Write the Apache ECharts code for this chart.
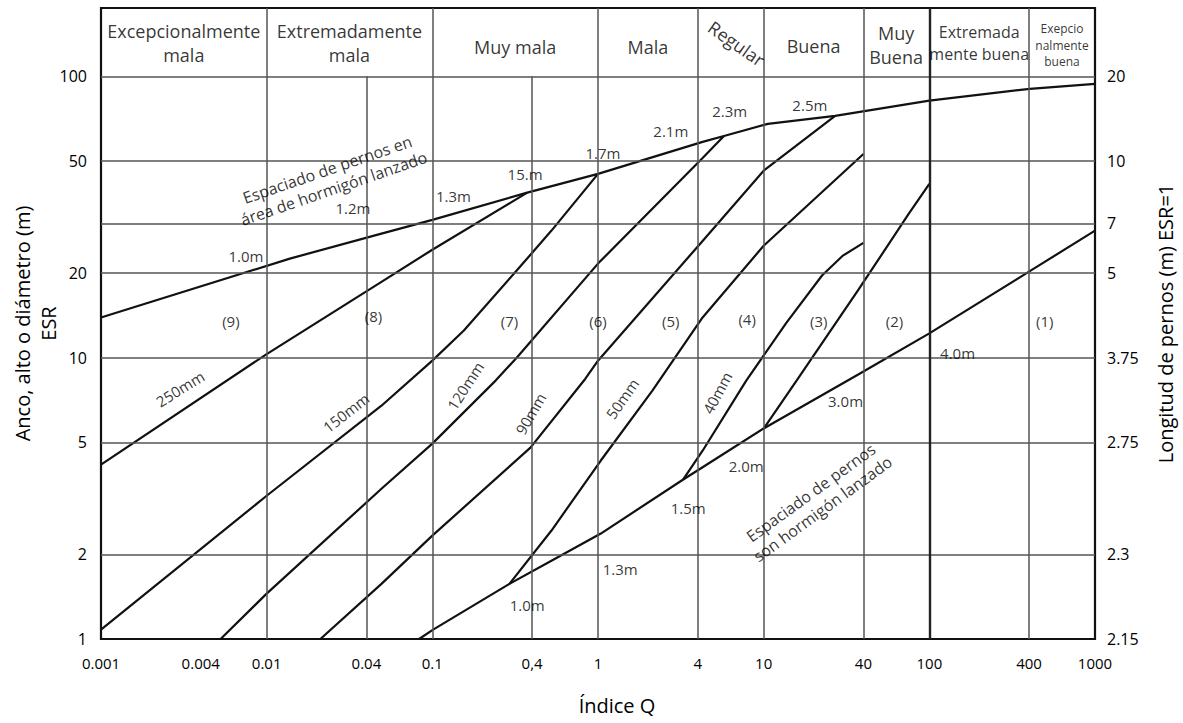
<!DOCTYPE html>
<html>
<head>
<meta charset="utf-8">
<script src="https://cdn.jsdelivr.net/npm/echarts@6/dist/echarts.min.js"></script>
<style>
  html, body { margin: 0; padding: 0; background: #fff; }
  #chart { width: 1183px; height: 723px; }
</style>
</head>
<body>
<div id="chart"></div>
<script>
// --- ticks ---
var qTicks = [0.001, 0.004, 0.01, 0.04, 0.1, 0.4, 1, 4, 10, 40, 100, 400, 1000];
var qTickLabels = ['0.001', '0.004', '0.01', '0.04', '0.1', '0,4', '1', '4', '10', '40', '100', '400', '1000'];
var spanTicks = [1, 2, 5, 10, 20, 50, 100];
var gridRows = [2, 5, 10, 20, 30, 50, 100];
var boltTicks = [1, 2, 5, 10, 20, 30, 50, 100];
var boltLabels = ['2.15', '2.3', '2.75', '3.75', '5', '7', '10', '20'];

// --- rock mass classes (header) ---
var classCols = [0.01, 0.1, 1, 4, 10, 40, 100, 400];   // run up through the header
var subCols = [0.04, 0.4];                            // plot area only
var classNames = ['Excepcionalmente\nmala', 'Extremadamente\nmala', 'Muy mala', 'Mala', 'Regular', 'Buena', 'Muy\nBuena', 'Extremada\nmente buena', 'Exepcio\nnalmente\nbuena'];
var classQ = [0.00316, 0.0316, 0.316, 2, 6.86, 20, 63, 200, 632];
var classH = [131, 131, 127, 127, 131, 128, 129, 131, 129];

// --- curves: [Q, span/ESR] ---
var spacingShotcrete = [[0.001, 13.9], [0.0138, 22.5], [0.0493, 27.6], [0.1, 30.9], [0.374, 38.6], [1, 45.0], [4.28, 58.5], [5.76, 61.4], [10.6, 67.8], [27.0, 72.4], [100, 82], [404, 90.3], [1000, 94.1]];
var line250 = [[0.001, 4.17], [0.01, 10.3], [0.0493, 18.6], [0.1, 24.2], [0.374, 38.6]];
var line150 = [[0.001, 1.08], [0.01, 3.23], [0.0493, 6.75], [0.1, 9.76], [0.155, 12.5], [0.323, 20.4], [0.524, 28.3], [1, 45.0]];
var line120 = [[0.00527, 1], [0.01, 1.45], [0.0493, 3.42], [0.1, 4.95], [0.241, 8.29], [0.323, 10.0], [1, 21.6], [4.28, 51.3], [5.76, 61.4]];
var line90 = [[0.0211, 1], [0.0493, 1.57], [0.1, 2.33], [0.391, 4.79], [0.839, 8.42], [1, 9.76], [4.28, 26.0], [10, 46.2], [27.0, 72.4]];
var line50 = [[0.292, 1.57], [0.524, 2.43], [1.04, 4.31], [2.13, 7.64], [4.28, 13.9], [10, 25.0], [40, 53.0]];
var line40 = [[3.27, 3.69], [4.28, 4.67], [7.85, 8.29], [13.7, 13.3], [22.5, 19.6], [29.9, 23.0], [40, 25.6]];
var lineBolts = [[10, 5.60], [15.8, 8.29], [37.0, 17.3], [75.2, 32.5], [100, 41.5]];
var spacingNoShotcrete = [[0.0832, 1], [0.1, 1.075], [0.292, 1.57], [0.517, 1.89], [1.04, 2.37], [3.27, 3.69], [4.28, 4.08], [10, 5.60], [37.0, 8.70], [100, 12.2], [404, 20.3], [1000, 28.3]];

// --- labels on the chart: [text, Q, span, rotate] ---
var upperSpacingLabels = [['1.0m', 0.0075, 23.0], ['1.2m', 0.0332, 34.1], ['1.3m', 0.134, 37.6], ['15.m', 0.363, 45.0], ['1.7m', 1.07, 53.5], ['2.1m', 2.75, 64.0], ['2.3m', 6.24, 75.4], ['2.5m', 19.0, 79.2]];
var lowerSpacingLabels = [['1.0m', 0.374, 1.32], ['1.3m', 1.36, 1.78], ['1.5m', 3.50, 2.93], ['2.0m', 7.85, 4.13], ['3.0m', 31.2, 7.04], ['4.0m', 148, 10.4]];
var zoneLabels = [['(9)', 0.00608, 13.5], ['(8)', 0.0441, 14.1], ['(7)', 0.292, 13.5], ['(6)', 1.0, 13.5], ['(5)', 2.75, 13.5], ['(4)', 7.95, 13.7], ['(3)', 21.5, 13.5], ['(2)', 61.7, 13.5], ['(1)', 498, 13.5]];
var thicknessLabels = [['250mm', 0.0030, 7.76, 32], ['150mm', 0.0301, 6.38, 38], ['120mm', 0.158, 7.95, 57], ['90mm', 0.391, 6.33, 60], ['50mm', 1.40, 7.15, 55], ['40mm', 5.24, 7.51, 62]];
var noteLabels = [['Espaciado de pernos en\nárea de hormigón lanzado', 0.0243, 43.2, 19], ['Espaciado de pernos\nson hormigón lanzado', 20.9, 3.10, 36]];

var FONT = "'Open Sans', 'Noto Sans', sans-serif";
var INK = '#000';
var GRIDC = '#555';

function lookup(ticks, labels) {
  return function(v) {
    for (var i = 0; i < ticks.length; i++) {
      if (Math.abs(v - ticks[i]) / ticks[i] < 1e-6) return labels[i];
    }
    return '';
  };
}

function curve(name, data) {
  return {
    name: name, type: 'line', data: data, z: 3,
    symbol: 'none', silent: true,
    lineStyle: { color: '#111', width: 2.2 }
  };
}

function texts(items, fontSize, lineHeight) {
  return {
    type: 'scatter', z: 5, silent: true, symbolSize: 1,
    itemStyle: { color: 'rgba(0,0,0,0)' },
    data: items.map(function(t) {
      return { name: t[0], value: [t[1], t[2]], label: { rotate: t[3] || 0 } };
    }),
    label: {
      show: true, position: 'inside', formatter: '{b}',
      color: INK, fontSize: fontSize, fontFamily: FONT, lineHeight: lineHeight || fontSize + 4
    }
  };
}

// grid lines as markLines
var YTOP = 175;
var gridLines = [];
gridRows.forEach(function(h) {
  gridLines.push([{ coord: [0.001, h] }, { coord: [1000, h] }]);
});
classCols.forEach(function(q) {
  var w = q === 100 ? 2.4 : 1.5;
  var c = q === 100 ? '#222' : GRIDC;
  gridLines.push([{ coord: [q, 1], lineStyle: { width: w, color: c } }, { coord: [q, YTOP] }]);
});
subCols.forEach(function(q) {
  gridLines.push([{ coord: [q, 1] }, { coord: [q, 100] }]);
});

// header text: narrow columns get a smaller size
var headerItems = classNames.map(function(n, i) { return [n, classQ[i], classH[i], n === 'Regular' ? -35 : 0]; });
var headerSmall = headerItems.filter(function(t) { return t[0].indexOf('Exepcio') === 0; });
var headerMid = headerItems.filter(function(t) { return t[0].indexOf('Extremada\n') === 0; });
var headerBig = headerItems.filter(function(t) { return headerSmall.indexOf(t) < 0 && headerMid.indexOf(t) < 0; });

var chart = echarts.init(document.getElementById('chart'), null, { renderer: 'svg' });
chart.setOption({
  animation: false,
  backgroundColor: '#fff',
  grid: {
    left: 101, right: 88, top: 8, bottom: 84,
    containLabel: false, outerBoundsMode: 'none',
    show: true, borderColor: '#111', borderWidth: 2.2, backgroundColor: '#fff'
  },
  xAxis: {
    type: 'log', logBase: 10, min: 0.001, max: 1000,
    axisLine: { show: false }, axisTick: { show: false }, splitLine: { show: false },
    axisLabel: { customValues: qTicks, formatter: lookup(qTicks, qTickLabels), color: INK, fontSize: 15, fontFamily: FONT, margin: 16 },
    name: 'Índice Q', nameLocation: 'middle', nameGap: 56,
    nameTextStyle: { color: INK, fontSize: 20, fontFamily: FONT, padding: [0, 0, 0, 38] }
  },
  yAxis: [
    {
      type: 'log', logBase: 10, min: 1, max: YTOP,
      axisLine: { show: false }, axisTick: { show: false }, splitLine: { show: false },
      axisLabel: { customValues: spanTicks, formatter: lookup(spanTicks, spanTicks.map(String)), color: INK, fontSize: 16, fontFamily: FONT, margin: 14 },
      name: 'Anco, alto o diámetro (m)\nESR', nameLocation: 'middle', nameGap: 40, nameRotate: 90,
      nameMoveOverlap: false,
      nameTextStyle: { color: INK, fontSize: 20, fontFamily: FONT, lineHeight: 26 }
    },
    {
      type: 'log', logBase: 10, min: 1, max: YTOP, position: 'right',
      axisLine: { show: false }, axisTick: { show: false }, splitLine: { show: false },
      axisLabel: { customValues: boltTicks, formatter: lookup(boltTicks, boltLabels), color: INK, fontSize: 16, fontFamily: FONT, margin: 12 },
      name: 'Longitud de pernos (m) ESR=1', nameLocation: 'middle', nameGap: 60, nameRotate: 90,
      nameTextStyle: { color: INK, fontSize: 20, fontFamily: FONT }
    }
  ],
  series: [
    {
      type: 'line', data: [[0.001, 1]], symbol: 'none', silent: true, z: 1,
      lineStyle: { width: 0 },
      markLine: {
        silent: true, symbol: ['none', 'none'], label: { show: false },
        lineStyle: { color: GRIDC, width: 1.5, type: 'solid' },
        data: gridLines
      }
    },
    curve('spacingShotcrete', spacingShotcrete),
    curve('250mm', line250),
    curve('150mm', line150),
    curve('120mm', line120),
    curve('90mm', line90),
    curve('50mm', line50),
    curve('40mm', line40),
    curve('bolts', lineBolts),
    curve('spacingNoShotcrete', spacingNoShotcrete),
    texts(headerBig, 18, 24),
    texts(headerMid, 16, 22),
    texts(headerSmall, 12, 16.5),
    texts(upperSpacingLabels, 15),
    texts(lowerSpacingLabels, 15),
    texts(zoneLabels, 15),
    texts(thicknessLabels, 15),
    texts(noteLabels, 16, 20)
  ]
});
</script>
</body>
</html>
